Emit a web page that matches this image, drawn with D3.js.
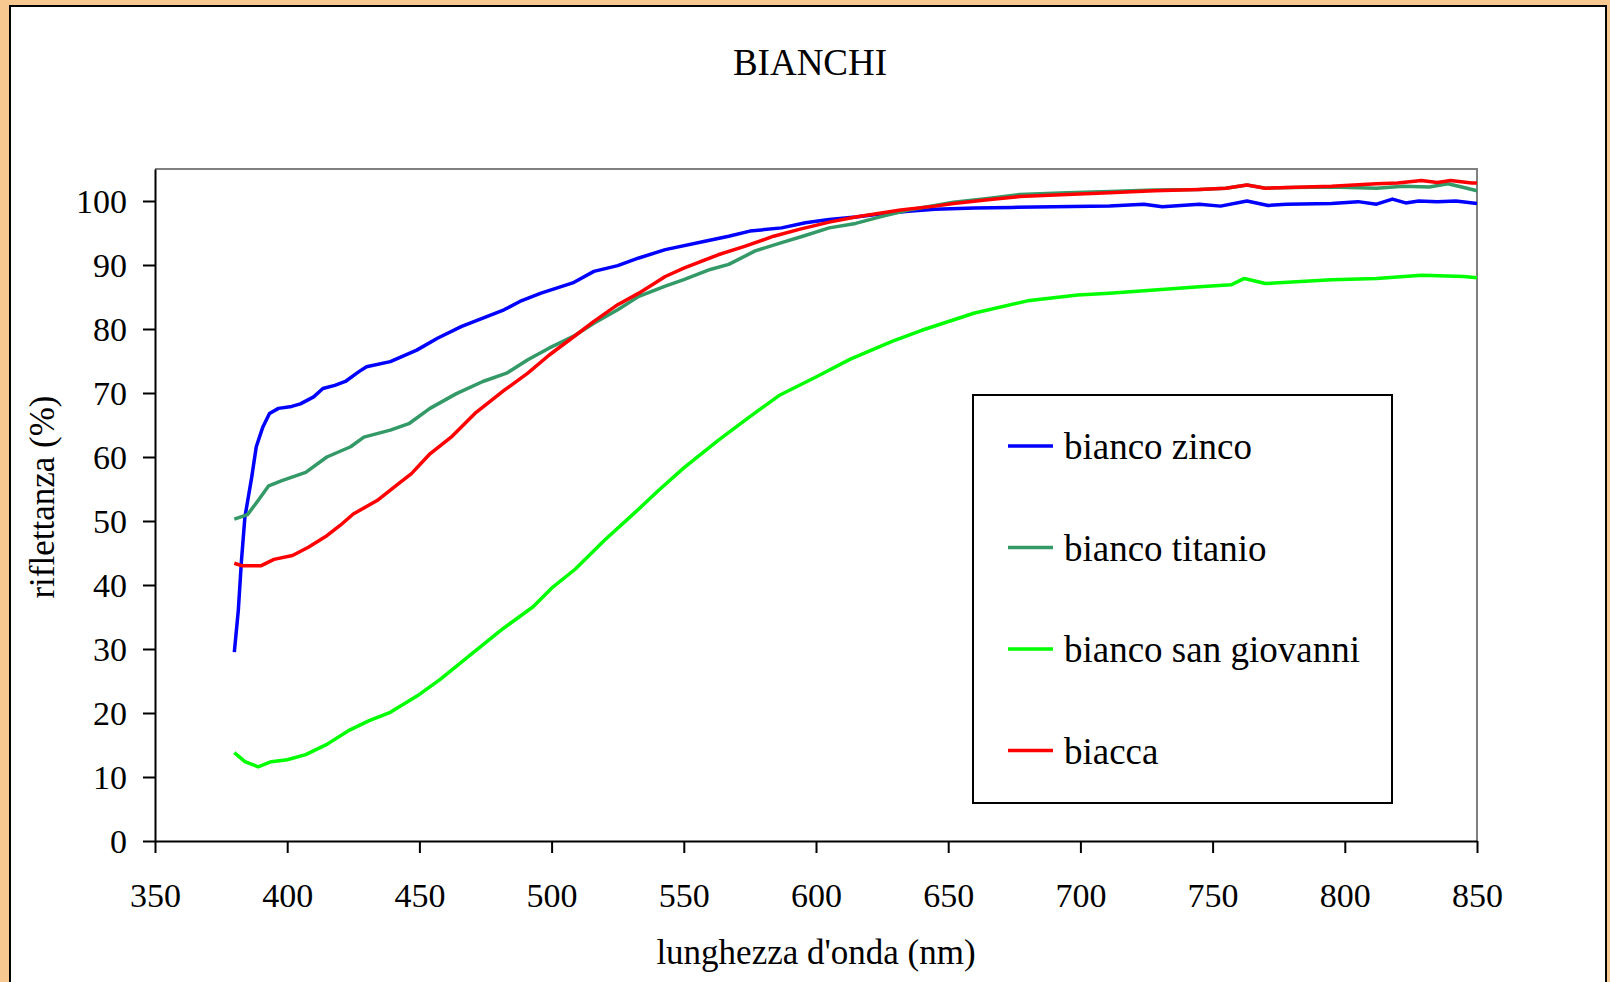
<!DOCTYPE html>
<html>
<head>
<meta charset="utf-8">
<script src="https://cdn.jsdelivr.net/npm/d3@7"></script>
<style>
  html, body { margin: 0; padding: 0; background: #F7C990; }
  svg { display: block; }
  text { font-family: "Liberation Serif", "Times New Roman", serif; fill: #000; }
</style>
</head>
<body>
<svg id="chart" width="1610" height="982"></svg>
<script>
// ---- data ----
const title = "BIANCHI";
const xLabel = "lunghezza d'onda (nm)";
const yLabel = "riflettanza (%)";
const xTicks = [350, 400, 450, 500, 550, 600, 650, 700, 750, 800, 850];
const yTicks = [0, 10, 20, 30, 40, 50, 60, 70, 80, 90, 100];
const seriesNames = ["bianco zinco", "bianco titanio", "bianco san giovanni", "biacca"];
const seriesColors = ["#0000FF", "#339966", "#00FF00", "#FF0000"];

const zincoNm = [380, 381.5, 382.7, 384, 386.6, 388.3, 390.8, 393.3, 396.7, 401.7, 405, 410, 413.5, 418, 422, 427, 430, 439, 449, 457, 466, 474, 482, 488, 496, 508, 516, 525, 533, 543, 558, 567, 575, 587, 596, 605, 615, 625, 635, 645, 660, 674, 690, 711, 724, 731, 745, 753, 763, 771, 778, 795, 805, 812, 818, 823, 828, 835, 842, 850];
const zincoR  = [29.5, 36, 43.8, 50.6, 56.9, 61.6, 64.7, 66.8, 67.6, 67.9, 68.3, 69.4, 70.7, 71.2, 71.8, 73.3, 74.1, 74.9, 76.7, 78.6, 80.4, 81.7, 83.0, 84.3, 85.6, 87.2, 89.0, 89.9, 91.1, 92.4, 93.7, 94.5, 95.3, 95.8, 96.6, 97.1, 97.5, 98.0, 98.4, 98.7, 98.9, 99.0, 99.1, 99.2, 99.5, 99.1, 99.5, 99.2, 100.0, 99.3, 99.5, 99.6, 99.9, 99.5, 100.3, 99.7, 100.0, 99.9, 100.0, 99.6];

const titanioNm = [380, 385, 389, 393, 398, 407, 415, 424, 429, 439, 446, 454, 464, 474, 483, 491, 499, 508, 516, 525, 533, 543, 550, 560, 567, 577, 587, 595, 605, 615, 625, 635, 645, 652, 665, 677, 695, 711, 728, 745, 755, 763, 770, 780, 795, 812, 822, 832, 839, 845, 850];
const titanioR  = [50.3, 51.0, 53.2, 55.5, 56.3, 57.6, 60.0, 61.6, 63.1, 64.2, 65.2, 67.6, 69.9, 71.8, 73.1, 75.2, 77.0, 78.8, 80.9, 83.0, 85.1, 86.7, 87.7, 89.3, 90.1, 92.2, 93.5, 94.5, 95.8, 96.5, 97.6, 98.6, 99.3, 99.8, 100.4, 101.0, 101.3, 101.5, 101.7, 101.8, 102.0, 102.5, 102.0, 102.1, 102.2, 102.0, 102.3, 102.2, 102.7, 102.1, 101.6];

const giovanniNm = [380, 384, 389, 394, 400, 407, 415, 423, 431, 439, 450, 458, 470, 481, 493, 500, 509, 520, 532, 540, 550, 563, 575, 586, 600, 613, 629, 640, 660, 680, 699, 711, 728, 745, 757, 762, 770, 795, 812, 829, 845, 850];
const giovanniR  = [13.8, 12.4, 11.6, 12.4, 12.7, 13.5, 15.1, 17.2, 18.8, 20.1, 22.9, 25.3, 29.3, 33.0, 36.6, 39.5, 42.5, 47.0, 51.5, 54.6, 58.3, 62.6, 66.3, 69.6, 72.5, 75.3, 78.1, 79.8, 82.5, 84.4, 85.3, 85.6, 86.1, 86.6, 86.9, 87.9, 87.1, 87.7, 87.9, 88.4, 88.2, 88.0];

const biaccaNm = [380, 383, 390, 395, 402, 408, 415, 420, 425, 434, 442, 447, 454, 462, 471, 482, 491, 499, 510, 516, 525, 533, 543, 550, 563, 573, 584, 594, 605, 615, 632, 645, 652, 665, 677, 695, 711, 728, 745, 755, 763, 770, 795, 812, 820, 829, 835, 840, 848, 850];
const biaccaR  = [43.4, 43.0, 43.0, 44.0, 44.6, 45.9, 47.7, 49.3, 51.1, 53.2, 55.8, 57.4, 60.5, 63.1, 66.8, 70.4, 73.1, 75.9, 79.3, 81.2, 83.8, 85.6, 88.2, 89.5, 91.6, 92.9, 94.5, 95.6, 96.7, 97.5, 98.6, 99.2, 99.6, 100.2, 100.7, 101.0, 101.3, 101.6, 101.8, 102.0, 102.5, 102.0, 102.3, 102.7, 102.8, 103.2, 102.9, 103.2, 102.8, 102.8];

const seriesNm = [zincoNm, titanioNm, giovanniNm, biaccaNm];
const seriesR = [zincoR, titanioR, giovanniR, biaccaR];

// ---- layout ----
const svg = d3.select("#chart");
const plot = { left: 155, right: 1477, top: 169, bottom: 841 };

// panel
svg.append("rect").attr("x", 10).attr("y", 6).attr("width", 1596).attr("height", 1000)
  .attr("fill", "#fff").attr("stroke", "#000").attr("stroke-width", 2);

const x = d3.scaleLinear().domain([350, 850]).range([plot.left, plot.right]);
const y = d3.scaleLinear().domain([0, 105]).range([plot.bottom, plot.top]);

// top and right frame (gray)
svg.append("path")
  .attr("d", `M${plot.left},${plot.top}H${plot.right}V${plot.bottom}`)
  .attr("fill", "none").attr("stroke", "#808080").attr("stroke-width", 2);

// axes
const xAxis = svg.append("g").attr("transform", `translate(0,${plot.bottom})`)
  .call(d3.axisBottom(x).tickValues(xTicks).tickSize(12).tickPadding(30).tickSizeOuter(0));
const yAxis = svg.append("g").attr("transform", `translate(${plot.left},0)`)
  .call(d3.axisLeft(y).tickValues(yTicks).tickSize(12).tickPadding(16).tickSizeOuter(0));

[xAxis, yAxis].forEach(g => {
  g.select(".domain").attr("stroke", "#000").attr("stroke-width", 2);
  g.selectAll(".tick line").attr("stroke", "#000").attr("stroke-width", 2);
  g.selectAll(".tick text").attr("font-family", "Liberation Serif, Times New Roman, serif")
    .attr("font-size", 34).attr("fill", "#000");
});
yAxis.selectAll(".tick text").attr("dy", "0.34em");

// lines
const line = d3.line().x(d => x(d[0])).y(d => y(d[1]));
seriesNames.forEach((name, i) => {
  const pts = seriesNm[i].map((nm, j) => [nm, seriesR[i][j]]);
  svg.append("path").datum(pts)
    .attr("d", line)
    .attr("fill", "none")
    .attr("stroke", seriesColors[i])
    .attr("stroke-width", 3.5)
    .attr("stroke-linejoin", "round");
});

// title
svg.append("text").attr("x", 810).attr("y", 75).attr("text-anchor", "middle")
  .attr("font-size", 37).text(title);

// axis titles
svg.append("text").attr("x", (plot.left + plot.right) / 2).attr("y", 964)
  .attr("text-anchor", "middle").attr("font-size", 35).text(xLabel);
svg.append("text").attr("transform", "translate(54,497) rotate(-90)")
  .attr("text-anchor", "middle").attr("font-size", 35).text(yLabel);

// legend
const lg = svg.append("g");
lg.append("rect").attr("x", 973).attr("y", 395).attr("width", 419).attr("height", 408)
  .attr("fill", "#fff").attr("stroke", "#000").attr("stroke-width", 2);
seriesNames.forEach((name, i) => {
  const ly = 446 + i * 101.5;
  lg.append("line").attr("x1", 1008).attr("x2", 1053).attr("y1", ly).attr("y2", ly)
    .attr("stroke", seriesColors[i]).attr("stroke-width", 3.5);
  lg.append("text").attr("x", 1064).attr("y", ly + 13).attr("font-size", 37).text(name);
});
</script>
</body>
</html>
